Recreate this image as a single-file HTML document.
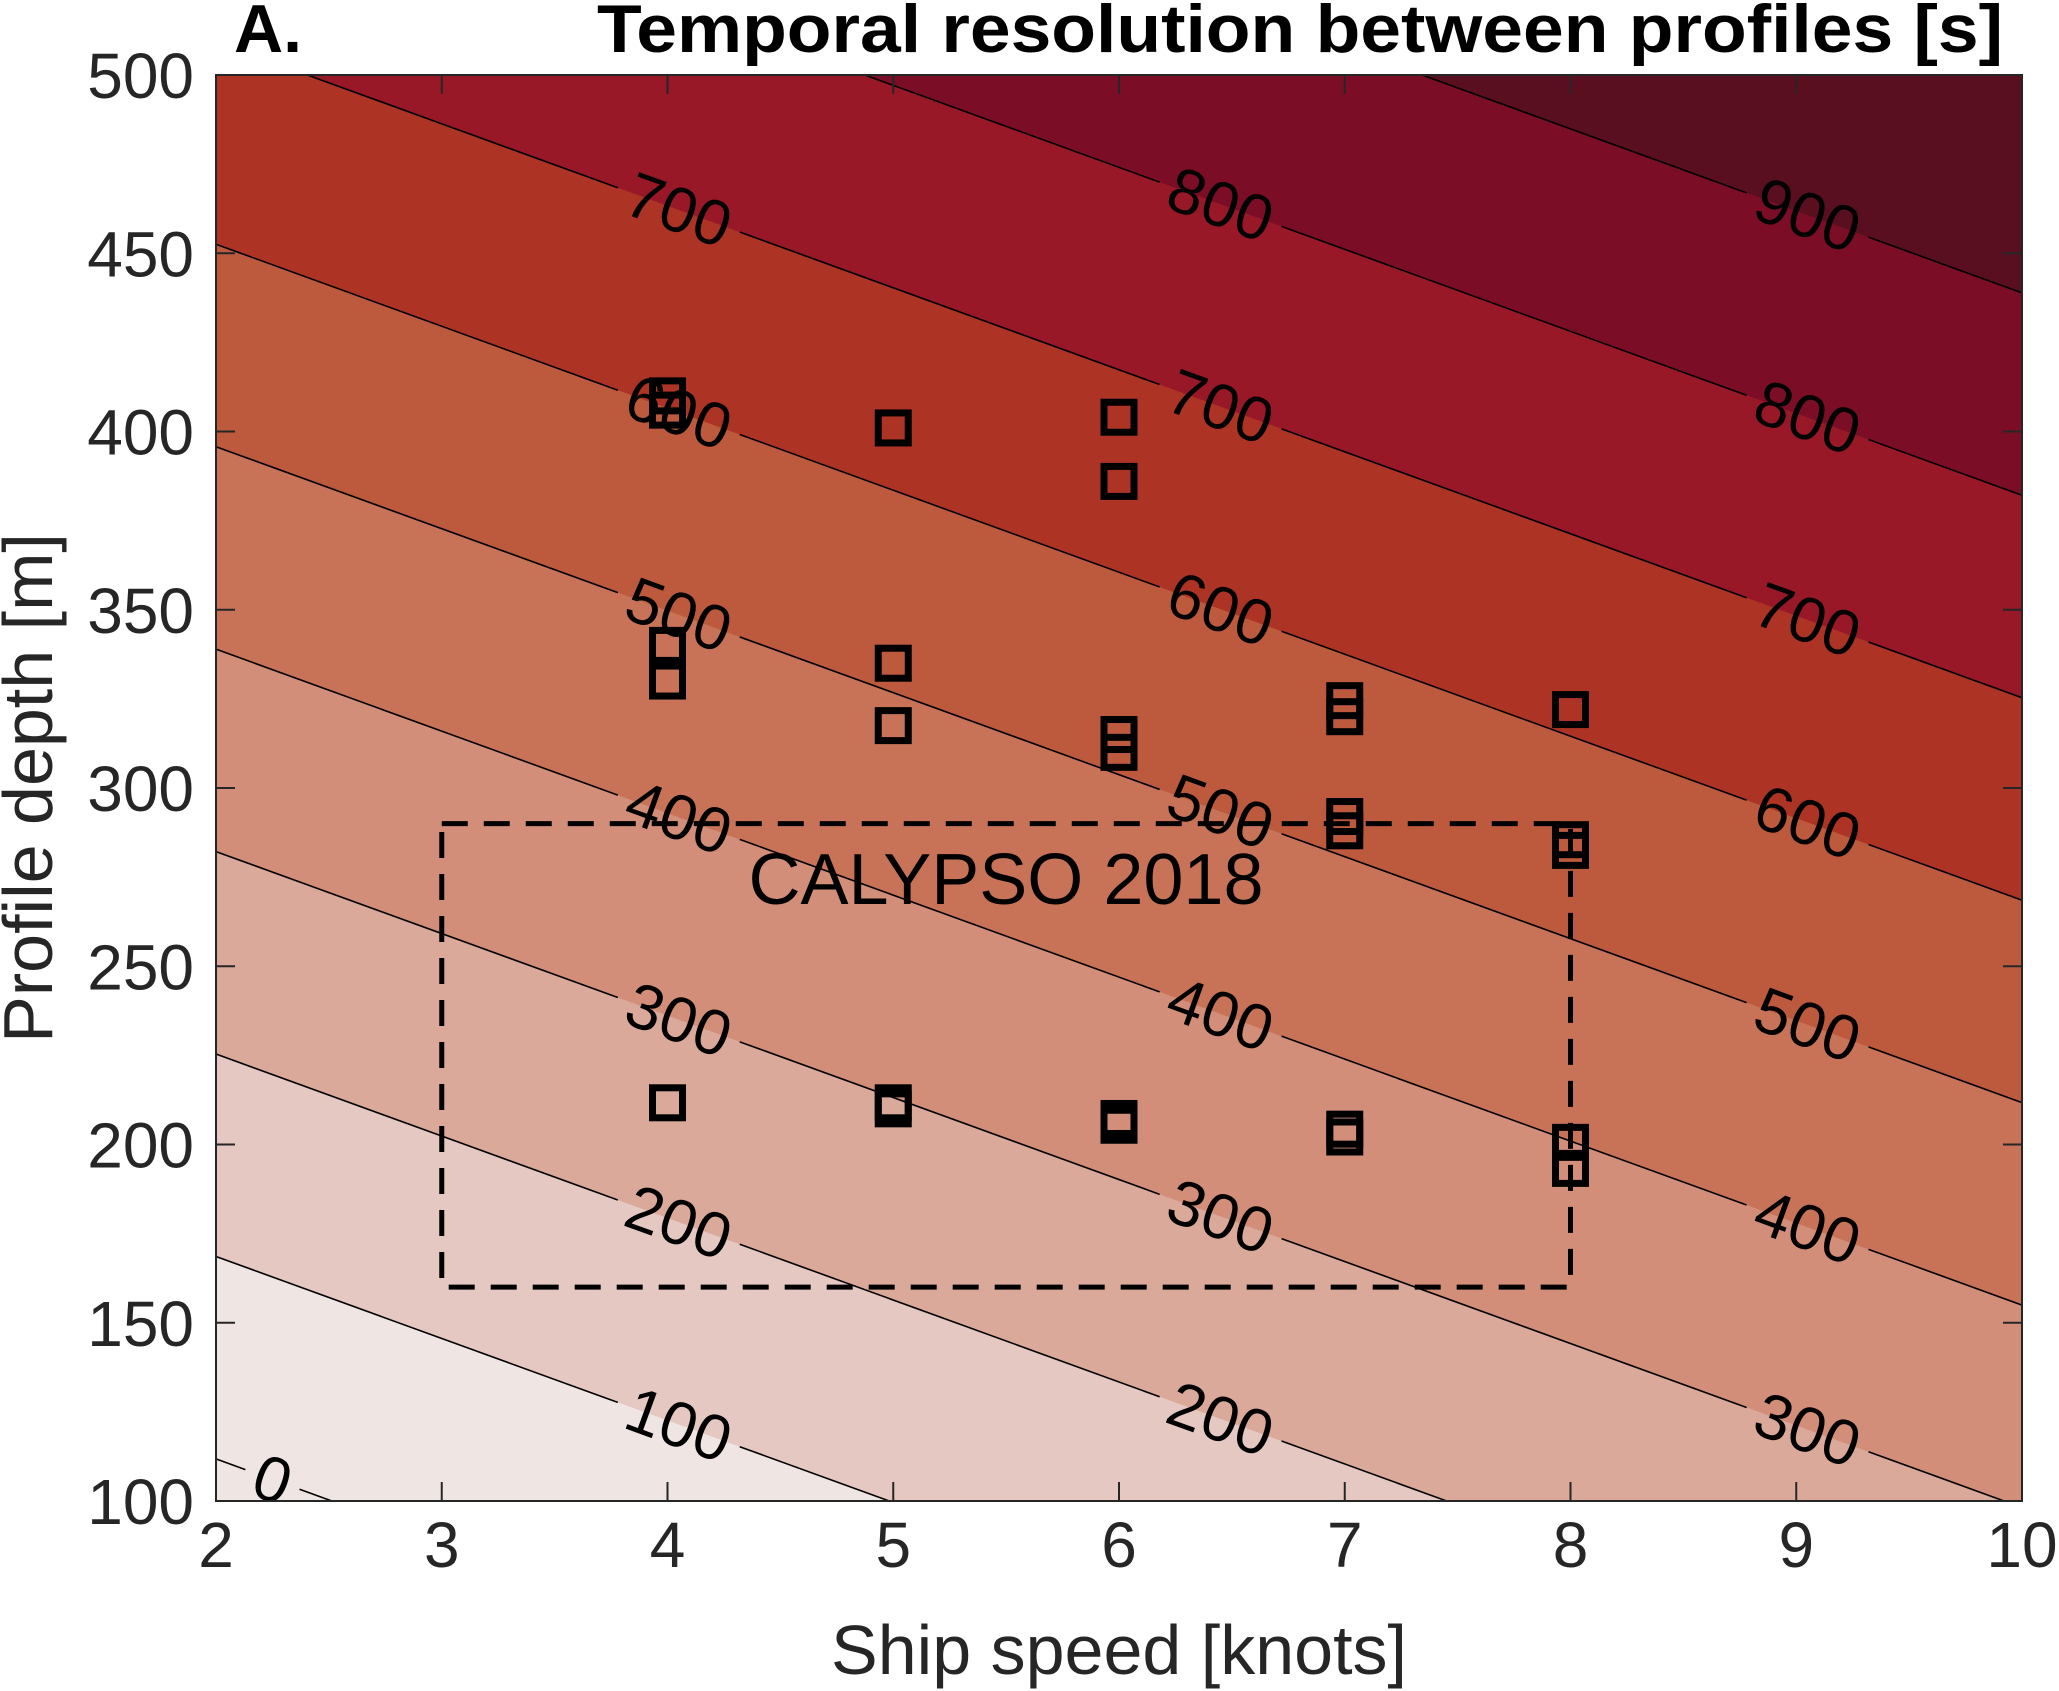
<!DOCTYPE html>
<html><head><meta charset="utf-8"><style>
html,body{margin:0;padding:0;background:#fff;}
svg{display:block;font-family:"Liberation Sans",Arial,sans-serif;}
</style></head><body>
<svg id="chart" width="2059" height="1691" viewBox="0 0 2059 1691">
<g id="bands"></g>
<g id="lines"></g>
<g id="labels"></g>
<g id="box"></g>
<g id="pts"></g>
<g id="axes"></g>
<text x="234" y="52" font-size="68" font-weight="bold">A.</text>
<text x="2003" y="52" font-size="68" font-weight="bold" text-anchor="end" textLength="1406" lengthAdjust="spacingAndGlyphs">Temporal resolution between profiles [s]</text>
<text x="1119" y="1674" font-size="70" fill="#262626" text-anchor="middle">Ship speed [knots]</text>
<text transform="translate(52,788) rotate(-90)" font-size="70" fill="#262626" text-anchor="middle">Profile depth [m]</text>
</svg>
<script>
const levels=[0,100,200,300,400,500,600,700,800,900];
const bandColors=['#efe5e3','#efe5e3','#e4c8c1','#daa99a','#d28e78','#c87358','#bd5a3d','#ad3324','#991827','#7b0d27','#5a0f21'];
const labelSpeeds=[4.05,6.45,9.05];
const xTicks=[2,3,4,5,6,7,8,9,10];
const yTicks=[100,150,200,250,300,350,400,450,500];
const ptSpeed=[4,4,5,6,6,4,4,5,5,6,6,7,7,8,7,7,8,8,4,5,5,6,6,7,7,8,8];
const ptDepth=[410,406,401,404,386,340,330,335,317.5,315,310,324.5,320,322,292,288,285.5,282.5,211.7,211.7,210,207.3,205.4,204.3,202.1,200.6,193.3];
const boxSpeed=[3,8];
const boxDepth=[160,290];
const coefD=1.761, coefS=40.5, d0=111.8, s0=2;
const L=216,R=2022,T=75,B=1501;
const xs=s=>L+(s-2)/8*(R-L);
const ys=d=>B-(d-100)/400*(B-T);
const NS='http://www.w3.org/2000/svg';
function mk(tag,attrs,parent){const e=document.createElementNS(NS,tag);for(const k in attrs)e.setAttribute(k,attrs[k]);parent.appendChild(e);return e;}
const tval=(s,d)=>coefD*(d-d0)+coefS*(s-s0);
function clip(poly,lv){const out=[];for(let i=0;i<poly.length;i++){const a=poly[i],b=poly[(i+1)%poly.length];const fa=tval(a[0],a[1])-lv,fb=tval(b[0],b[1])-lv;if(fa>=0)out.push(a);if((fa>=0)!==(fb>=0)){const t=fa/(fa-fb);out.push([a[0]+t*(b[0]-a[0]),a[1]+t*(b[1]-a[1])]);}}return out;}
const rect=[[2,100],[10,100],[10,500],[2,500]];
const gB=document.getElementById('bands');
let r0=mk('rect',{x:L,y:T,width:R-L,height:B-T,fill:bandColors[0]},gB);


levels.forEach((lv,i)=>{const p=clip(rect,lv);if(p.length<3)return;
 const e=mk('polygon',{points:p.map(q=>xs(q[0])+','+ys(q[1])).join(' '),fill:bandColors[i+1]},gB);
 
 });
const gL=document.getElementById('lines'),gT=document.getElementById('labels');
const dAt=(lv,s)=>d0+(lv-coefS*(s-s0))/coefD;
const sAt=(lv,d)=>s0+(lv-coefD*(d-d0))/coefS;
const ang=Math.atan2((ys(dAt(0,3))-ys(dAt(0,2))),(xs(3)-xs(2)))*180/Math.PI;
levels.forEach(lv=>{
 let sa=Math.max(2,sAt(lv,500)),sb=Math.min(10,sAt(lv,100));
 if(sa>=sb)return;
 const labs=[];
 if(lv===0)labs.push(2.25);
 labelSpeeds.forEach(s=>{const d=dAt(lv,s);if(d>=118&&d<=482&&s>sa+0.1&&s<sb-0.1)labs.push(s);});
 const hw=lv===0?0.12:0.27;
 let cur=sa;const segs=[];
 labs.sort((a,b)=>a-b).forEach(s=>{if(s-hw>cur)segs.push([cur,s-hw]);cur=s+hw;});
 if(cur<sb)segs.push([cur,sb]);
 segs.forEach(sg=>{const e=mk('line',{x1:xs(sg[0]),y1:ys(dAt(lv,sg[0])),x2:xs(sg[1]),y2:ys(dAt(lv,sg[1])),stroke:'#000','stroke-width':1.6},gL);
  
  });
 labs.forEach(s=>{const x=xs(s),y=ys(dAt(lv,s));
  const t=mk('text',{x:0,y:0,transform:`translate(${x},${y}) rotate(${ang})`,'font-size':64,'text-anchor':'middle','dominant-baseline':'central',fill:'#000'},gT);
  t.textContent=lv;
  
  });
});
const gBox=document.getElementById('box');
const bx=mk('rect',{x:xs(boxSpeed[0]),y:ys(boxDepth[1]),width:xs(boxSpeed[1])-xs(boxSpeed[0]),height:ys(boxDepth[0])-ys(boxDepth[1]),fill:'none',stroke:'#000','stroke-width':5,'stroke-dasharray':'26 16'},gBox);


const bt=mk('text',{x:1006,y:904,'font-size':72,'text-anchor':'middle',fill:'#000'},gBox);
bt.textContent='CALYPSO 2018';


const gP=document.getElementById('pts');
ptSpeed.forEach((s,i)=>{const x=xs(s),y=ys(ptDepth[i]);
 const e=mk('rect',{x:x-15,y:y-15,width:30,height:30,fill:'none',stroke:'#000','stroke-width':7},gP);
 
 });
const gA=document.getElementById('axes');
const fr=mk('rect',{x:L,y:T,width:R-L,height:B-T,fill:'none',stroke:'#262626','stroke-width':2},gA);


xTicks.forEach(v=>{const x=xs(v);
 mk('line',{x1:x,y1:B,x2:x,y2:B-19,stroke:'#262626','stroke-width':2},gA);
 mk('line',{x1:x,y1:T,x2:x,y2:T+19,stroke:'#262626','stroke-width':2},gA);
 const t=mk('text',{x:x,y:B+66,'font-size':64,'text-anchor':'middle',fill:'#262626'},gA);
 t.textContent=v;
 
 });
yTicks.forEach(v=>{const y=ys(v);
 mk('line',{x1:L,y1:y,x2:L+19,y2:y,stroke:'#262626','stroke-width':2},gA);
 mk('line',{x1:R,y1:y,x2:R-19,y2:y,stroke:'#262626','stroke-width':2},gA);
 const t=mk('text',{x:L-22,y:y+23,'font-size':64,'text-anchor':'end',fill:'#262626'},gA);
 t.textContent=v;
 
 });
</script>
</body></html>
